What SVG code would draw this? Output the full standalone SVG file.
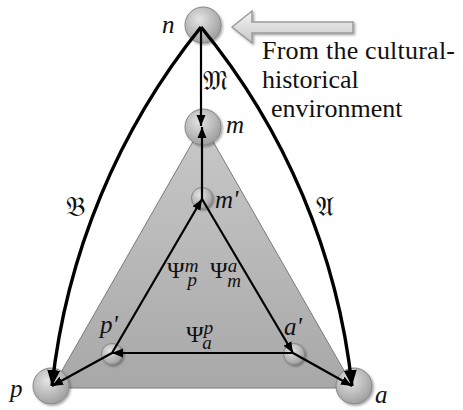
<svg xmlns="http://www.w3.org/2000/svg" width="463" height="410" viewBox="0 0 463 410">
<style>
.lbl{font-family:'Liberation Serif','DejaVu Serif',serif;font-style:italic;font-size:25px;fill:#111}
.psi{font-family:'Liberation Serif','DejaVu Serif',serif;font-size:24px;fill:#111}
.sub{font-style:italic;font-size:19px}
.frak{font-family:'DejaVu Serif','DejaVu Sans',serif;font-size:27px;fill:#111}
.txt{font-family:'Liberation Serif','DejaVu Serif',serif;font-size:26px;fill:#111}
.big{fill:url(#gBall);stroke:#858585;stroke-width:1;filter:url(#sh)}
.small{fill:url(#gBall);stroke:#858585;stroke-width:1;filter:url(#sh)}
.arr{fill:none;stroke:#000;stroke-width:2.2;marker-end:url(#ah)}
.crv{fill:none;stroke:#000;stroke-width:3.4;marker-end:url(#ahb)}
</style>
<defs>
<radialGradient id="gBall" cx="0.4" cy="0.35" r="0.7">
<stop offset="0" stop-color="#e4e4e4"/>
<stop offset="1" stop-color="#9c9c9c"/>
</radialGradient>
<linearGradient id="gTri" x1="0" y1="0" x2="0" y2="1">
<stop offset="0" stop-color="#c8c8c8"/>
<stop offset="1" stop-color="#a8a8a8"/>
</linearGradient>
<linearGradient id="gArr" x1="0" y1="0" x2="0" y2="1">
<stop offset="0" stop-color="#f4f4f4"/>
<stop offset="1" stop-color="#c8c8c8"/>
</linearGradient>
<filter id="sh" x="-30%" y="-30%" width="170%" height="170%">
<feDropShadow dx="1.5" dy="1.5" stdDeviation="1" flood-color="#000" flood-opacity="0.35"/>
</filter>
<marker id="ah" markerUnits="userSpaceOnUse" markerWidth="12" markerHeight="10" refX="11" refY="5" orient="auto">
<path d="M0,0.5 L11,5 L0,9.5 Z" fill="#000"/>
</marker>
<marker id="ahb" markerUnits="userSpaceOnUse" markerWidth="17" markerHeight="14" refX="16" refY="7" orient="auto">
<path d="M0,0.5 L16,7 L0,13.5 Z" fill="#000"/>
</marker>
</defs>

<polygon id="triangle" points="203,124 52,388 354,388" fill="url(#gTri)" stroke="#7a7a7a" stroke-width="1"/>

<g id="n"><circle class="big" cx="203" cy="25" r="18"/><text class="lbl" x="162" y="33">n</text></g>
<g id="m"><circle class="big" cx="203" cy="127" r="18"/><text class="lbl" x="226" y="133">m</text></g>
<g id="m-prime"><circle class="small" cx="202" cy="198" r="10.5"/><text class="lbl" x="215" y="208">m'</text></g>
<g id="p-prime"><circle class="small" cx="112" cy="354" r="10.5"/><text class="lbl" x="100" y="333">p'</text></g>
<g id="a-prime"><circle class="small" cx="294" cy="354" r="10.5"/><text class="lbl" x="284" y="335">a'</text></g>
<g id="p"><circle class="big" cx="51" cy="386" r="18"/><text class="lbl" x="10" y="397">p</text></g>
<g id="a"><circle class="big" cx="354" cy="386" r="18"/><text class="lbl" x="375" y="403">a</text></g>

<g id="connectors">
<path class="arr" d="M201,27 L201,126"/>
<path class="arr" d="M202,199 L202,127"/>
<path class="arr" d="M112,353 L202,199"/>
<path class="arr" d="M202,199 L293,353"/>
<path class="arr" d="M293,353 L112,353"/>
<path class="arr" d="M112,353 L52,386"/>
<path class="arr" d="M293,353 L352,386"/>
<path class="crv" d="M201,27 A690,690 0 0 0 52,386"/>
<path class="crv" d="M201,27 A680,680 0 0 1 352,386"/>
</g>

<g id="edge-labels">
<text class="frak" x="203" y="90">𝔐</text>
<text class="frak" x="66" y="216">𝔅</text>
<text class="frak" x="316" y="216">𝔄</text>
<text class="psi" x="167" y="278">Ψ<tspan class="sub" dy="-6">m</tspan><tspan class="sub" dx="-11" dy="14">p</tspan></text>
<text class="psi" x="210" y="278">Ψ<tspan class="sub" dy="-6">a</tspan><tspan class="sub" dx="-10" dy="15">m</tspan></text>
<text class="psi" x="186" y="342">Ψ<tspan class="sub" dy="-8">p</tspan><tspan class="sub" dx="-11" dy="15">a</tspan></text>
</g>

<g id="source">
<path d="M232,27 L252,11 L252,22 L353,22 L353,33 L252,33 L252,43 Z" fill="url(#gArr)" stroke="#9a9a9a" stroke-width="1.5" filter="url(#sh)"/>
<text class="txt" x="262" y="59" textLength="193" lengthAdjust="spacing">From the cultural-</text>
<text class="txt" x="262" y="88">historical</text>
<text class="txt" x="271" y="117">environment</text>
</g>
</svg>
